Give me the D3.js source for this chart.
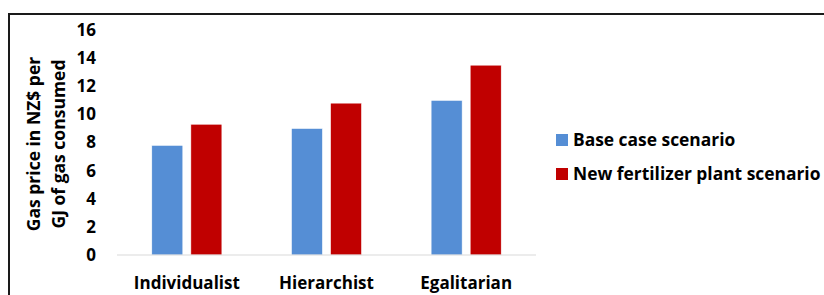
<!DOCTYPE html>
<html>
<head>
<meta charset="utf-8">
<script src="https://cdn.jsdelivr.net/npm/d3@7"></script>
<style>
  body { margin: 0; background: #fff; }
  svg text { font-family: "Open Sans", sans-serif; font-weight: bold; fill: #000; }
</style>
</head>
<body>
<svg class="chart"></svg>
<script>
// Chart size matches the browser window
const width = 824;
const height = 295;

// Data
const categories = ["Individualist", "Hierarchist", "Egalitarian"];
const seriesNames = ["Base case scenario", "New fertilizer plant scenario"];
const baseCase = [7.8, 9.0, 11.0];
const newPlant = [9.3, 10.8, 13.5];
const yTicks = [0, 2, 4, 6, 8, 10, 12, 14, 16];
const colors = ["#558ED5", "#C00000"];

const margin = { top: 30, left: 117, bottom: 40 };
const plotRight = 536;
const fontFamily = "'Open Sans', sans-serif";

const svg = d3.select(".chart")
    .attr("width", width)
    .attr("height", height);

// Outer frame (only top and left edges show in the crop)
svg.append("rect")
    .attr("x", 9).attr("y", 14)
    .attr("width", width + 20).attr("height", height + 20)
    .attr("fill", "none")
    .attr("stroke", "#1a1a1a")
    .attr("stroke-width", 2);

const x = d3.scaleBand()
    .domain(categories)
    .range([margin.left, plotRight]);

const x1 = d3.scaleBand()
    .domain(seriesNames)
    .range([0, x.bandwidth()])
    .paddingInner(0.205)
    .paddingOuter(0.89);

const y = d3.scaleLinear()
    .domain([0, 16])
    .range([255, margin.top]);

// Bars, grouped by category
const rows = categories.map((c, i) => ({ category: c, values: [baseCase[i], newPlant[i]] }));

svg.append("g")
    .selectAll("g")
    .data(rows)
    .join("g")
    .attr("transform", d => `translate(${x(d.category)},0)`)
    .selectAll("rect")
    .data(d => d.values.map((v, j) => ({ series: seriesNames[j], value: v, j })))
    .join("rect")
    .attr("x", d => x1(d.series))
    .attr("y", d => y(d.value))
    .attr("width", x1.bandwidth())
    .attr("height", d => y(0) - y(d.value))
    .attr("fill", d => colors[d.j])
    .attr("stroke", "#fff")
    .attr("stroke-width", 0.6);

// Baseline
svg.append("line")
    .attr("x1", margin.left).attr("x2", plotRight)
    .attr("y1", y(0)).attr("y2", y(0))
    .attr("stroke", "#d9d9d9")
    .attr("stroke-width", 1);

// Y axis (labels only)
const yAxis = svg.append("g")
    .attr("transform", `translate(100,0)`)
    .call(d3.axisLeft(y).tickValues(yTicks).tickSize(0).tickPadding(4));
yAxis.select(".domain").remove();
yAxis.selectAll("text")
    .style("font-size", "17px")
    .style("font-family", fontFamily)
    .style("font-weight", "bold")
    .attr("fill", "#000");

// X axis (labels only)
const xAxis = svg.append("g")
    .attr("transform", `translate(0,${y(0)})`)
    .call(d3.axisBottom(x).tickSize(0).tickPadding(22));
xAxis.select(".domain").remove();
xAxis.selectAll("text")
    .style("font-size", "17px")
    .style("font-family", fontFamily)
    .style("font-weight", "bold")
    .attr("fill", "#000");

// Y axis title, two lines
const titleLines = ["Gas price in NZ$ per", "GJ of gas consumed"];
svg.append("g")
    .selectAll("text")
    .data(titleLines)
    .join("text")
    .attr("transform", (d, i) => `translate(${40 + i * 25},144) rotate(-90)`)
    .attr("text-anchor", "middle")
    .style("font-size", "17.5px")
    .text(d => d);

// Legend
const legend = svg.append("g")
    .selectAll("g")
    .data(seriesNames)
    .join("g")
    .attr("transform", (d, i) => `translate(556,${134 + i * 34})`);

legend.append("rect")
    .attr("width", 12).attr("height", 12)
    .attr("fill", (d, i) => colors[i]);

legend.append("text")
    .attr("x", 17).attr("y", 6)
    .attr("dy", "0.35em")
    .style("font-size", "17.4px")
    .text(d => d);
</script>
</body>
</html>
